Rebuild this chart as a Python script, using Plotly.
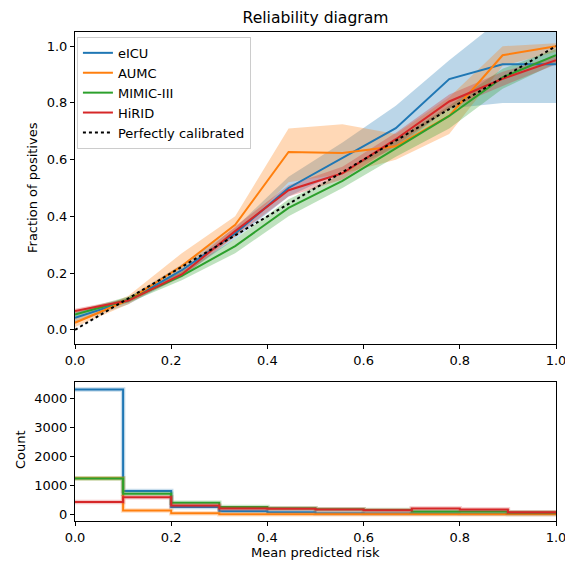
import plotly.graph_objects as go
from plotly.subplots import make_subplots

# ---------------- data ----------------
bin_pos = [0.0, 0.111, 0.222, 0.333, 0.444, 0.556, 0.667, 0.778, 0.889, 1.0]
identity = [0.0, 1.0]

datasets = ["eICU", "AUMC", "MIMIC-III", "HiRID"]

eicu_frac = [0.042, 0.103, 0.21, 0.34, 0.50, 0.605, 0.711, 0.884, 0.936, 0.936]
eicu_lo = [0.025, 0.09, 0.19, 0.32, 0.47, 0.56, 0.64, 0.78, 0.80, 0.80]
eicu_hi = [0.06, 0.115, 0.23, 0.36, 0.54, 0.66, 0.79, 0.95, 1.10, 1.10]

aumc_frac = [0.025, 0.105, 0.225, 0.37, 0.627, 0.623, 0.647, 0.754, 0.968, 1.0]
aumc_lo = [0.01, 0.09, 0.20, 0.33, 0.52, 0.55, 0.60, 0.69, 0.93, 0.98]
aumc_hi = [0.04, 0.12, 0.27, 0.40, 0.71, 0.725, 0.69, 0.82, 1.0, 1.01]

mimic_frac = [0.054, 0.106, 0.19, 0.295, 0.43, 0.525, 0.64, 0.754, 0.89, 0.968]
mimic_lo = [0.045, 0.095, 0.175, 0.27, 0.40, 0.50, 0.61, 0.71, 0.85, 0.94]
mimic_hi = [0.065, 0.117, 0.205, 0.32, 0.46, 0.55, 0.67, 0.79, 0.92, 0.99]

hirid_frac = [0.066, 0.103, 0.195, 0.348, 0.492, 0.552, 0.672, 0.805, 0.885, 0.951]
hirid_lo = [0.058, 0.097, 0.185, 0.33, 0.47, 0.53, 0.65, 0.78, 0.86, 0.935]
hirid_hi = [0.074, 0.11, 0.205, 0.365, 0.51, 0.575, 0.695, 0.83, 0.91, 0.965]

hist_edges = [0.0, 0.1, 0.2, 0.3, 0.4, 0.5, 0.6, 0.7, 0.8, 0.9, 1.0]
eicu_count = [4320, 820, 270, 125, 90, 60, 50, 45, 40, 30]
aumc_count = [1260, 150, 60, 20, 20, 18, 18, 18, 18, 18]
mimic_count = [1250, 730, 420, 270, 230, 195, 170, 115, 115, 80]
hirid_count = [440, 610, 325, 220, 208, 184, 160, 219, 184, 90]

colors = ["#1f77b4", "#ff7f0e", "#2ca02c", "#d62728"]
fills = ["rgba(31,119,180,0.3)", "rgba(255,127,14,0.3)",
         "rgba(44,160,44,0.3)", "rgba(214,39,40,0.3)"]
halos = ["rgba(31,119,180,0.25)", "rgba(255,127,14,0.25)",
         "rgba(44,160,44,0.25)", "rgba(214,39,40,0.25)"]

fracs = [eicu_frac, aumc_frac, mimic_frac, hirid_frac]
los = [eicu_lo, aumc_lo, mimic_lo, hirid_lo]
his = [eicu_hi, aumc_hi, mimic_hi, hirid_hi]
counts = [eicu_count, aumc_count, mimic_count, hirid_count]

FONT = "DejaVu Sans"
FS = 13

fig = make_subplots(rows=2, cols=1)

# ---------------- reliability curves ----------------
for name, fr, lo, hi, c, fc in zip(datasets, fracs, los, his, colors, fills):
    fig.add_trace(go.Scatter(x=bin_pos, y=lo, mode="lines", line=dict(width=0),
                             showlegend=False, hoverinfo="skip"), row=1, col=1)
    fig.add_trace(go.Scatter(x=bin_pos, y=hi, mode="lines", line=dict(width=0),
                             fill="tonexty", fillcolor=fc, showlegend=False,
                             hoverinfo="skip"), row=1, col=1)
for name, fr, c in zip(datasets, fracs, colors):
    fig.add_trace(go.Scatter(x=bin_pos, y=fr, mode="lines", name=name,
                             line=dict(color=c, width=2)), row=1, col=1)

fig.add_trace(go.Scatter(x=identity, y=identity, mode="lines",
                         name="Perfectly calibrated",
                         line=dict(color="black", width=2, dash="dot")), row=1, col=1)

# ---------------- histograms ----------------
for name, cnt, c, h in zip(datasets, counts, colors, halos):
    xs = hist_edges
    ys = cnt + [cnt[-1]]
    fig.add_trace(go.Scatter(x=xs, y=ys, mode="lines", line_shape="hv",
                             line=dict(color=h, width=4.5), showlegend=False,
                             hoverinfo="skip"), row=2, col=1)
    fig.add_trace(go.Scatter(x=xs, y=ys, mode="lines", line_shape="hv",
                             line=dict(color=c, width=2), showlegend=False),
                  row=2, col=1)

axis_common = dict(showline=True, mirror=True, linecolor="black", linewidth=1,
                   ticks="outside", ticklen=4, tickwidth=1, tickcolor="black",
                   showgrid=False, zeroline=False, automargin=False,
                   ticklabeloverflow="allow",
                   tickfont=dict(family=FONT, size=FS, color="black"))

fig.update_xaxes(range=[0, 1], tickvals=[0, 0.2, 0.4, 0.6, 0.8, 1.0],
                 tickformat=".1f", **axis_common)
fig.update_yaxes(row=1, col=1, range=[-0.05, 1.05],
                 tickvals=[0, 0.2, 0.4, 0.6, 0.8, 1.0], tickformat=".1f",
                 domain=[0.362, 1.0], **axis_common)
fig.update_yaxes(row=2, col=1, range=[-210, 4570],
                 tickvals=[0, 1000, 2000, 3000, 4000],
                 domain=[0.0, 0.284], **axis_common)

fig.update_layout(
    width=565, height=566,
    margin=dict(l=75, r=9, t=32, b=45, autoexpand=False),
    paper_bgcolor="white", plot_bgcolor="white",
    font=dict(family=FONT, size=FS, color="black"),
    title=dict(text="Reliability diagram", x=0.5, xref="paper",
               y=1 - 18 / 566, yref="container", yanchor="middle",
               xanchor="center", font=dict(family=FONT, size=15.6, color="black")),
    legend=dict(x=0.004, y=0.99, xanchor="left", yanchor="top",
                bgcolor="rgba(255,255,255,0.8)", bordercolor="#cccccc",
                borderwidth=1, font=dict(family=FONT, size=FS),
                traceorder="normal", tracegroupgap=0, itemwidth=30),
    showlegend=True,
    annotations=[
        dict(text="Fraction of positives", xref="paper", yref="paper",
             x=(32 - 75) / 481, y=(521 - 188) / 489, textangle=-90,
             showarrow=False, xanchor="center", yanchor="middle",
             font=dict(family=FONT, size=FS)),
        dict(text="Count", xref="paper", yref="paper",
             x=(20 - 75) / 481, y=(521 - 450) / 489, textangle=-90,
             showarrow=False, xanchor="center", yanchor="middle",
             font=dict(family=FONT, size=FS)),
        dict(text="Mean predicted risk", xref="paper", yref="paper",
             x=0.5, y=(521 - 552) / 489, showarrow=False,
             xanchor="center", yanchor="middle",
             font=dict(family=FONT, size=FS)),
    ],
)

fig.write_html("out.html")
